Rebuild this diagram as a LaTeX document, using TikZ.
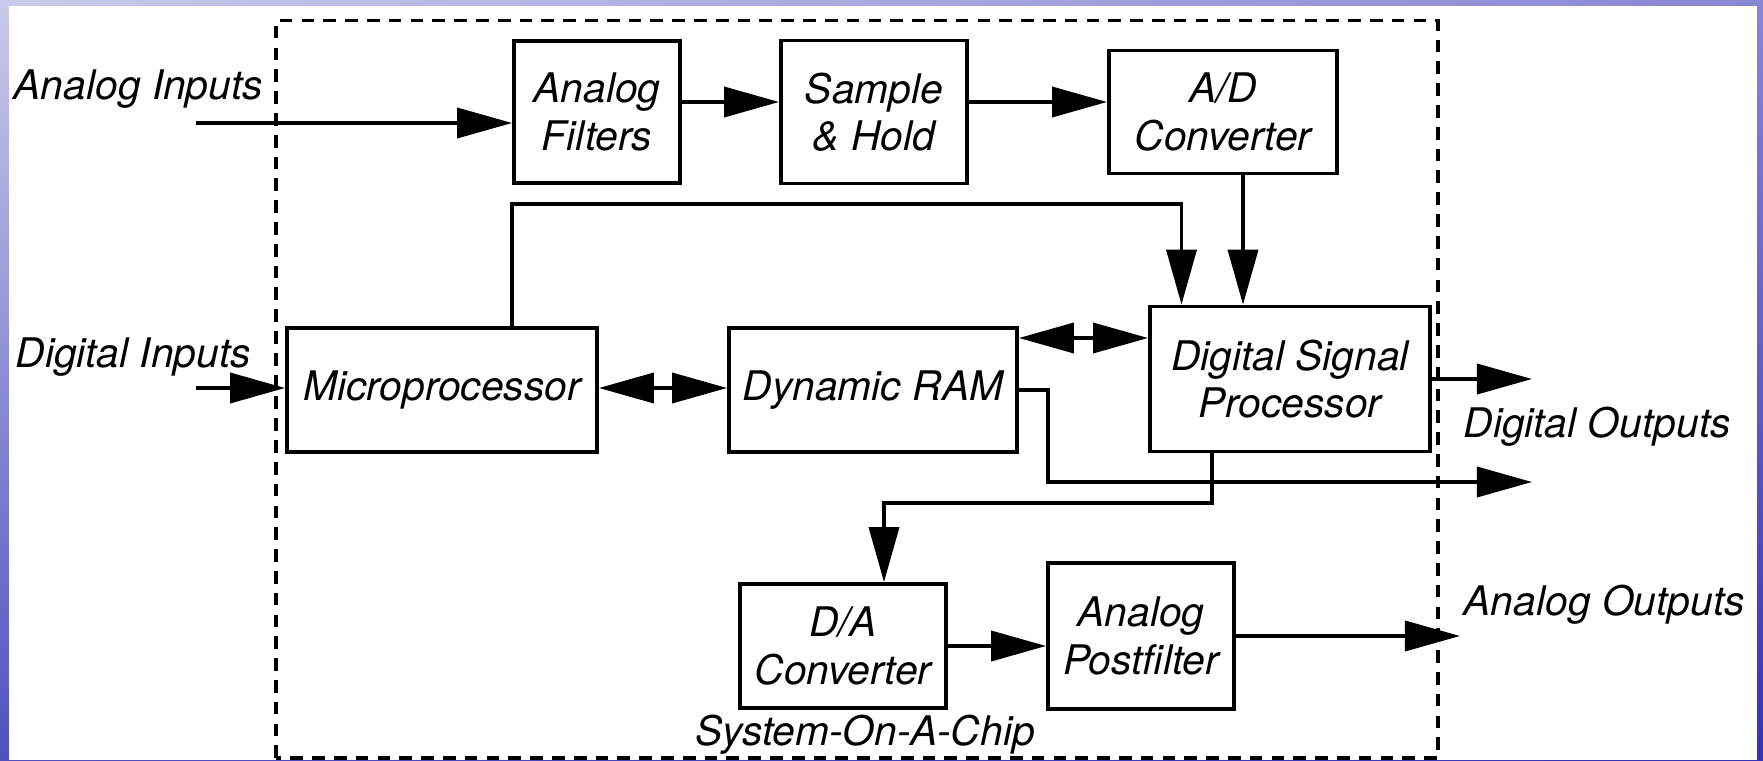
\documentclass[tikz,border=0pt]{standalone}
\usepackage{fontspec}
\setmainfont{TeX Gyre Heros}
\usepackage{xcolor}
\usetikzlibrary{arrows.meta,calc,positioning,shadings}

\definecolor{bgul}{HTML}{CACAEA}
\definecolor{bgur}{HTML}{8A86D6}
\definecolor{bgll}{HTML}{5050C0}
\definecolor{bglr}{HTML}{3434B4}

\begin{document}
\begin{tikzpicture}[x=0.01cm,y=0.01cm,
		txt/.style={font=\fontsize{11.6}{13.5}\selectfont\itshape},
		blk/.style={txt,draw,line width=1.05pt,align=center,inner sep=0pt},
		arr/.style={line width=1.05pt,-{Triangle[length=0.55cm,width=0.3cm]}},
		dbl/.style={line width=1.05pt,{Triangle[length=0.55cm,width=0.3cm]}-{Triangle[length=0.55cm,width=0.3cm]}},
		soc/.style={line width=1.05pt,dash pattern=on 3.6pt off 2.6pt},
		lbl/.style={txt,inner sep=0pt,anchor=base west}]
		\useasboundingbox (0,0) rectangle (1763,760);
		\shade[upper left=bgul,upper right=bgur,lower left=bgll,lower right=bglr] (0,0) rectangle (1763,760);
		\fill[white] (8.5,0) rectangle (1757,754);
		
		% chip boundary
		\draw[soc] (276,2) rectangle (1438,739.5);
		
		% blocks
		\node[blk,minimum width=1.66cm,minimum height=1.42cm] (filt) at (597,648) {Analog\\Filters};
		\node[blk,minimum width=1.86cm,minimum height=1.43cm] (sh) at (874,648) {Sample\\\& Hold};
		\node[blk,minimum width=2.28cm,minimum height=1.23cm] (adc) at (1223,648) {A/D\\Converter};
		\node[blk,minimum width=3.10cm,minimum height=1.24cm] (mp) at (442,370) {Microprocessor};
		\node[blk,minimum width=2.88cm,minimum height=1.24cm] (dram) at (873,370) {Dynamic RAM};
		\node[blk,minimum width=2.80cm,minimum height=1.45cm] (dsp) at (1290,381) {Digital Signal\\Processor};
		\node[blk,minimum width=2.06cm,minimum height=1.24cm] (dac) at (843,114) {D/A\\Converter};
		\node[blk,minimum width=1.86cm,minimum height=1.46cm] (pf) at (1141,124) {Analog\\Postfilter};
		
		% outside labels
		\node[lbl] (ainlbl) at (13,660) {Analog Inputs};
		\node[lbl] (dinlbl) at (15,393) {Digital Inputs};
		\node[lbl] (doutlbl) at (1463,323) {Digital Outputs};
		\node[lbl] (aoutlbl) at (1463,145) {Analog Outputs};
		\node[lbl] (soclbl) at (695,15) {System-On-A-Chip};
		
		% free ends and bends
		\coordinate (ain) at (196,637);
		\coordinate (din) at (196,372);
		\coordinate (dout1) at (1532,381);
		\coordinate (dout2) at (1532,278);
		\coordinate (aout) at (1460,124);
		\coordinate (bus) at (1181.5,556);
		\coordinate (dabus) at (884,257);
		
		% analog path
		\draw[arr] (ain) -- (ain -| filt.west);
		\draw[arr] (filt.east |- 0,658) -- (sh.west |- 0,658);
		\draw[arr] (sh.east |- 0,658) -- (adc.west |- 0,658);
		\draw[arr] (adc.south -| 1243,0) -- (dsp.north -| 1243,0);
		
		% digital path
		\draw[arr] (din) -- (din -| mp.west);
		\draw[arr] (filt.west |- mp.north) |- (bus) -- (bus |- dsp.north);
		\draw[dbl] (mp.east |- 0,372) -- (dram.west |- 0,372);
		\draw[dbl] (dram.east |- 0,422) -- (dsp.west |- 0,422);
		\draw[arr] (dram.east) -| (1048,278) -- (dout2);
		\draw[arr] (dsp.east) -- (dout1);
		
		% back to analog
		\draw[arr] (dsp.south -| 1212,0) |- (dabus) -- (dabus |- dac.north);
		\draw[arr] (dac.east) -- (dac.east -| pf.west);
		\draw[arr] (pf.east) -- (aout);
\end{tikzpicture}
\end{document}
